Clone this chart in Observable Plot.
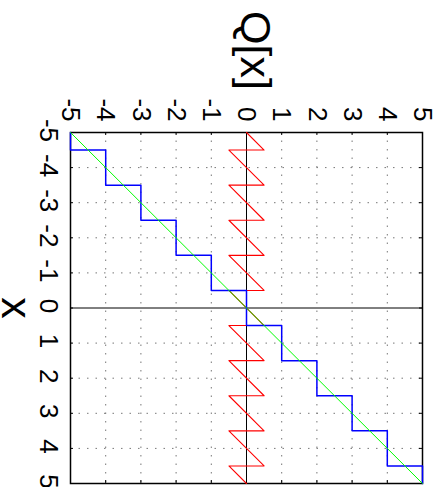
<!DOCTYPE html>
<html>
<head>
<meta charset="utf-8">
<script src="https://cdn.jsdelivr.net/npm/d3@7"></script>
<script src="https://cdn.jsdelivr.net/npm/@observablehq/plot@0.6"></script>
<style>
  html, body { margin: 0; padding: 0; background: #fff; overflow: hidden; }
  #chart svg { display: block; }
</style>
</head>
<body>
<div id="chart"></div>
<script>
// ---- data ----
const ticks = [-5, -4, -3, -2, -1, 0, 1, 2, 3, 4, 5];
const tickLabels = ["-5", "-4", "-3", "-2", "-1", "0", "1", "2", "3", "4", "5"];
const gridTicks = [-4, -3, -2, -1, 1, 2, 3, 4];

// identity line Q = x (green)
const identX = [-5, 5];
const identQ = [-5, 5];

// quantizer staircase (blue): vertices (x, Q)
const stairX = [-5, -4.5, -4.5, -3.5, -3.5, -2.5, -2.5, -1.5, -1.5, -0.5, -0.5, 0.5, 0.5, 1.5, 1.5, 2.5, 2.5, 3.5, 3.5, 4.5, 4.5, 5];
const stairQ = [-5, -5, -4, -4, -3, -3, -2, -2, -1, -1, 0, 0, 1, 1, 2, 2, 3, 3, 4, 4, 5, 5];

// quantization error sawtooth (red): vertices (x, Q)
const errX = [-5, -4.5, -4.5, -3.5, -3.5, -2.5, -2.5, -1.5, -1.5, -0.5, -0.5, 0.5, 0.5, 1.5, 1.5, 2.5, 2.5, 3.5, 3.5, 4.5, 4.5, 5];
const errQ = [0, 0.5, -0.5, 0.5, -0.5, 0.5, -0.5, 0.5, -0.5, 0.5, -0.5, 0.5, -0.5, 0.5, -0.5, 0.5, -0.5, 0.5, -0.5, 0.5, -0.5, 0];

const xLabel = "x";
const qLabel = "Q[x]";

// ---- layout ----
const W = 443, H = 487;
const mL = 70, mR = 21, mT = 132, mB = 4;
const pxPerUnitX = (W - mL - mR) / 10;
const pxPerUnitY = (H - mT - mB) / 10;
const tickPx = 3;
const tX = tickPx / pxPerUnitY; // tick length in data units along vertical
const tQ = tickPx / pxPerUnitX; // tick length in data units along horizontal

const toRows = (xs, qs) => xs.map((x, i) => ({x, q: qs[i]}));
const stair = toRows(stairX, stairQ);
const err = toRows(errX, errQ);
const ident = toRows(identX, identQ);
const tickRows = ticks.map((t, i) => ({t, label: tickLabels[i]}));

const font = "'Liberation Sans', Arial, Helvetica, sans-serif";

const chart = Plot.plot({
  width: W,
  height: H,
  marginLeft: mL,
  marginRight: mR,
  marginTop: mT,
  marginBottom: mB,
  style: {fontFamily: font, background: "#fff"},
  x: {domain: [-5, 5], axis: null},
  y: {domain: [-5, 5], reverse: true, axis: null},
  marks: [
    // dotted grid
    Plot.ruleX(gridTicks, {x: d => d, stroke: "#777", strokeWidth: 1, strokeDasharray: "1.5,7"}),
    Plot.ruleY(gridTicks, {y: d => d, stroke: "#777", strokeWidth: 1, strokeDasharray: "1.5,7"}),
    // zero axes
    Plot.ruleX([0], {stroke: "black", strokeWidth: 1}),
    Plot.ruleY([0], {stroke: "black", strokeWidth: 1}),
    // inward ticks on all four sides
    Plot.ruleX(ticks, {x: d => d, y1: -5, y2: -5 + tX, stroke: "black", strokeWidth: 1}),
    Plot.ruleX(ticks, {x: d => d, y1: 5, y2: 5 - tX, stroke: "black", strokeWidth: 1}),
    Plot.ruleY(ticks, {y: d => d, x1: -5, x2: -5 + tQ, stroke: "black", strokeWidth: 1}),
    Plot.ruleY(ticks, {y: d => d, x1: 5, x2: 5 - tQ, stroke: "black", strokeWidth: 1}),
    // frame
    Plot.frame({stroke: "black", strokeWidth: 1.5}),
    // data
    Plot.line(err, {x: "q", y: "x", stroke: "#ff0000", strokeWidth: 1.1}),
    Plot.line(stair, {x: "q", y: "x", stroke: "#0000ff", strokeWidth: 1.5}),
    Plot.line(ident, {x: "q", y: "x", stroke: "#00ff00", strokeWidth: 1}),
    // top tick labels (rotated)
    Plot.text(tickRows, {x: "t", text: "label", frameAnchor: "top", rotate: 90, textAnchor: "end", lineAnchor: "middle", dy: -11, fontSize: 26, fill: "black"}),
    // left tick labels (rotated)
    Plot.text(tickRows, {y: "t", text: "label", frameAnchor: "left", rotate: 90, textAnchor: "middle", lineAnchor: "middle", dx: -22, dy: -2, fontSize: 26, fill: "black"}),
    // axis labels
    Plot.text([qLabel], {x: [0], text: d => d, frameAnchor: "top", rotate: 90, textAnchor: "middle", lineAnchor: "middle", dx: 8, dy: -82, fontSize: 43, fill: "black"}),
    Plot.text([xLabel], {text: d => d, frameAnchor: "left", rotate: 90, textAnchor: "middle", lineAnchor: "middle", dx: -55, fontSize: 43, fill: "black"})
  ]
});
document.getElementById("chart").appendChild(chart);
</script>
</body>
</html>
